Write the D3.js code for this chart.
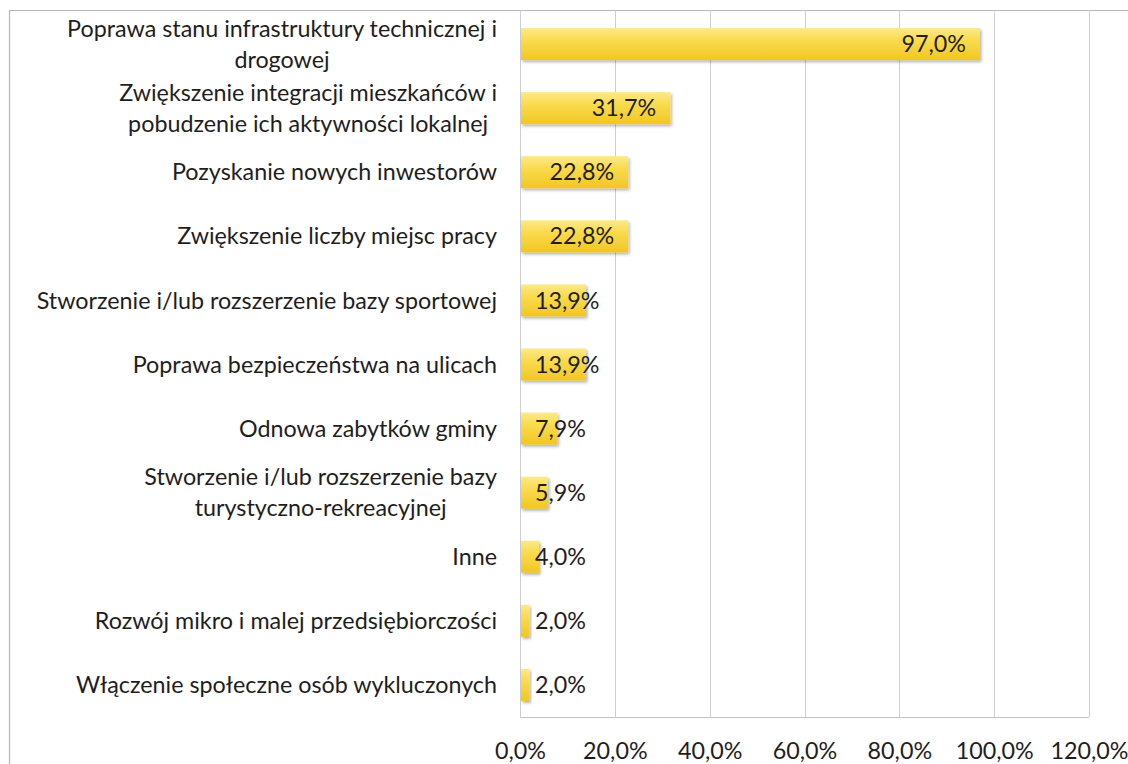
<!DOCTYPE html>
<html>
<head>
<meta charset="utf-8">
<script src="https://cdn.jsdelivr.net/npm/d3@7"></script>
<style>
  html, body { margin: 0; padding: 0; background: #fff; }
  svg { display: block; }
  text { font-family: Lato, "Open Sans", sans-serif; fill: #1e1e1e; }
</style>
</head>
<body>
<svg id="chart" width="1128" height="764"></svg>
<script>
// ---- data ----
const categories = [
  "Poprawa stanu infrastruktury technicznej i\ndrogowej",
  "Zwiększenie integracji mieszkańców i\npobudzenie ich aktywności lokalnej",
  "Pozyskanie nowych inwestorów",
  "Zwiększenie liczby miejsc pracy",
  "Stworzenie i/lub rozszerzenie bazy sportowej",
  "Poprawa bezpieczeństwa na ulicach",
  "Odnowa zabytków gminy",
  "Stworzenie i/lub rozszerzenie bazy\nturystyczno-rekreacyjnej",
  "Inne",
  "Rozwój mikro i malej przedsiębiorczości",
  "Włączenie społeczne osób wykluczonych"
];
const values = [97.0, 31.7, 22.8, 22.8, 13.9, 13.9, 7.9, 5.9, 4.0, 2.0, 2.0];
const tickValues = [0, 20, 40, 60, 80, 100, 120];
const tickLabels = ["0,0%", "20,0%", "40,0%", "60,0%", "80,0%", "100,0%", "120,0%"];

// ---- layout ----
const plot = { left: 520, right: 1089, top: 12, bottom: 717 };
const fontSize = 23.3;
const fmt = v => v.toFixed(1).replace(".", ",") + "%";

const svg = d3.select("#chart");
const defs = svg.append("defs");
const grad = defs.append("linearGradient").attr("id", "barGrad")
  .attr("x1", 0).attr("y1", 0).attr("x2", 0).attr("y2", 1);
grad.append("stop").attr("offset", "0%").attr("stop-color", "#fce98c");
grad.append("stop").attr("offset", "35%").attr("stop-color", "#f9dc50");
grad.append("stop").attr("offset", "100%").attr("stop-color", "#f2c622");
const filt = defs.append("filter").attr("id", "shadow")
  .attr("x", "-10%").attr("y", "-30%").attr("width", "130%").attr("height", "180%");
filt.append("feDropShadow").attr("dx", 1.5).attr("dy", 2).attr("stdDeviation", 1.5)
  .attr("flood-color", "#000").attr("flood-opacity", 0.3);

// outer chart border (partially visible)
svg.append("path")
  .attr("d", "M9.5,764 L9.5,10.5 L1128,10.5")
  .attr("fill", "none").attr("stroke", "#b8b8b8").attr("stroke-width", 1.2);

const x = d3.scaleLinear().domain([0, 120]).range([plot.left, plot.right]);
const y = d3.scaleBand().domain(d3.range(categories.length))
  .range([plot.top, plot.bottom]).paddingInner(0.5).paddingOuter(0.25);

// gridlines
svg.append("g").selectAll("line").data(tickValues).join("line")
  .attr("x1", d => Math.round(x(d)) + 0.5).attr("x2", d => Math.round(x(d)) + 0.5)
  .attr("y1", 10).attr("y2", plot.bottom)
  .attr("stroke", "#cfcfcf").attr("stroke-width", 1);

// x axis line
svg.append("line")
  .attr("x1", plot.left).attr("x2", plot.right)
  .attr("y1", plot.bottom + 0.5).attr("y2", plot.bottom + 0.5)
  .attr("stroke", "#c4c4c4");

// x axis via d3.axisBottom
const xAxis = d3.axisBottom(x).tickValues(tickValues)
  .tickFormat((d, i) => tickLabels[i]).tickSize(0).tickPadding(25);
const gx = svg.append("g").attr("transform", `translate(0,${plot.bottom})`).call(xAxis);
gx.select(".domain").remove();
gx.selectAll("text").style("font-size", fontSize + "px")
  .style("font-family", "Lato, sans-serif").attr("fill", "#1e1e1e");

// bars
svg.append("g").selectAll("rect").data(values).join("rect")
  .attr("x", x(0) + 1)
  .attr("y", (d, i) => y(i))
  .attr("width", d => x(d) - x(0) - 1)
  .attr("height", y.bandwidth())
  .attr("fill", "url(#barGrad)")
  .attr("filter", "url(#shadow)");

// value labels: inside end for long bars, else starting just right of the axis
svg.append("g").selectAll("text").data(values).join("text")
  .attr("x", d => d > 20 ? x(d) - 14 : x(0) + 15)
  .attr("y", (d, i) => y(i) + y.bandwidth() / 2)
  .attr("dy", "0.35em")
  .attr("text-anchor", d => d > 20 ? "end" : "start")
  .style("font-size", fontSize + "px")
  .text(d => fmt(d));

// category labels (wrapped lines centered within a right-aligned block)
const labelRight = 497;
const lineH = 31;
const gl = svg.append("g");
categories.forEach((c, i) => {
  const lines = c.split("\n");
  const cy = y(i) + y.bandwidth() / 2;
  const t = gl.append("text").style("font-size", fontSize + "px");
  const spans = lines.map((ln, k) => t.append("tspan")
    .attr("y", cy + (k - (lines.length - 1) / 2) * lineH)
    .attr("dy", "0.35em").text(ln));
  const widths = spans.map(s => s.node().getComputedTextLength());
  const maxW = Math.max(...widths);
  spans.forEach(s => s.attr("x", labelRight - maxW / 2).attr("text-anchor", "middle"));
});
</script>
</body>
</html>
